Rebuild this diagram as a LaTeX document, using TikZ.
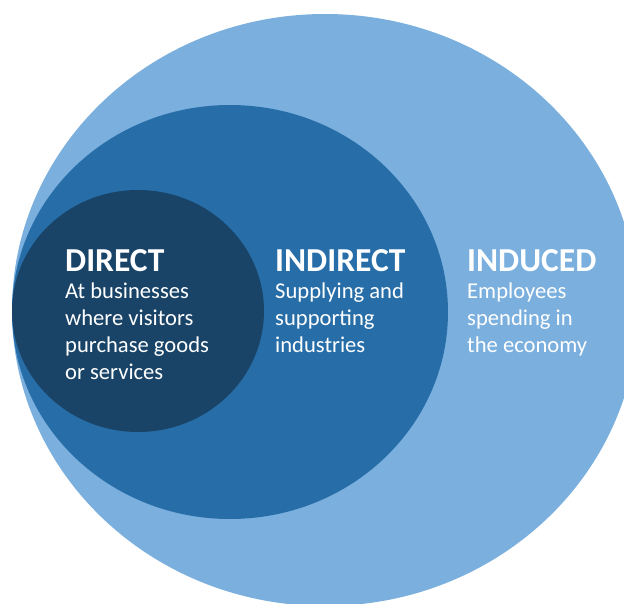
\documentclass[tikz,border=0pt]{standalone}
\usepackage{fontspec}
\setmainfont{Carlito}
\definecolor{outerblue}{HTML}{7AAFDE}
\definecolor{midblue}{HTML}{276EA8}
\definecolor{innerblue}{HTML}{194468}
\tikzset{
  title/.style={anchor=base west, inner sep=0pt, text=white, font=\bfseries\fontsize{33.5}{40}\selectfont},
  body/.style={anchor=base west, inner sep=0pt, text=white, font=\fontsize{22.6}{27}\selectfont},
}
\begin{document}
\begin{tikzpicture}[x=1pt,y=-1pt]
\useasboundingbox (0,0) rectangle (624,603);
\clip (0,0) rectangle (624,603);
\fill[outerblue] (325,310) ellipse [x radius=313pt, y radius=296pt];
\fill[midblue] (230,312) ellipse [x radius=218pt, y radius=207pt];
\fill[innerblue] (138,311) ellipse [x radius=126pt, y radius=121pt];
% DIRECT
\node[title] (dt) at (65,271) {DIRECT};
\node[body] (d1) at (65,298) {At businesses};
\node[body] (d2) at (65,325) {where visitors};
\node[body] (d3) at (65,352) {purchase goods};
\node[body] (d4) at (65,379) {or services};
% INDIRECT
\node[title] (it) at (275,271) {INDIRECT};
\node[body] (i1) at (275,298) {Supplying and};
\node[body] (i2) at (275,325) {supporting};
\node[body] (i3) at (275,352) {industries};
% INDUCED
\node[title] (ut) at (467,271) {INDUCED};
\node[body] (u1) at (467,298) {Employees};
\node[body] (u2) at (467,325) {spending in};
\node[body] (u3) at (467,352) {the economy};
\end{tikzpicture}
\end{document}
